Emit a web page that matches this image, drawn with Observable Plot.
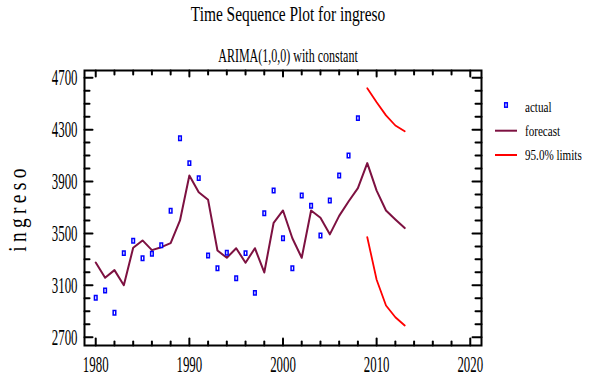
<!DOCTYPE html>
<html><head><meta charset="utf-8">
<script src="https://cdn.jsdelivr.net/npm/d3@7"></script>
<script src="https://cdn.jsdelivr.net/npm/@observablehq/plot@0.6"></script>
<style>
html,body{margin:0;padding:0;background:#fff;}
#chart{position:relative;width:591px;height:378px;font-family:"Liberation Serif","Times New Roman",serif;color:#000;overflow:hidden;background:#fff;}
#head{position:relative;height:62px;}
.t{position:absolute;white-space:nowrap;line-height:1;}
.c{transform-origin:center;}
.l{transform-origin:left center;font-size:15px;}
.sw{position:absolute;}
#plot svg{display:block;}
</style>
</head><body>
<div id="chart">
  <div id="head">
    <span class="t c" style="left:288px;top:3px;font-size:22px;transform:translateX(-50%) scaleX(.70)">Time Sequence Plot for ingreso</span>
    <span class="t c" style="left:288px;top:47px;font-size:18.5px;transform:translateX(-50%) scaleX(.65)">ARIMA(1,0,0) with constant</span>
  </div>
  <div id="plot"></div>
  <svg class="sw" style="left:500px;top:99px" width="12" height="12"><rect x="4.7" y="3.8" width="2.6" height="4.4" fill="#fff" stroke="#0000ff" stroke-width="1.5"/></svg>
  <span class="t l" style="left:525px;top:100px;transform:scaleX(.74)">actual</span>
  <svg class="sw" style="left:494px;top:126px" width="26" height="10"><line x1="1" x2="23" y1="4.7" y2="4.7" stroke="#7d1141" stroke-width="2"/></svg>
  <span class="t l" style="left:525px;top:124px;transform:scaleX(.74)">forecast</span>
  <svg class="sw" style="left:494px;top:150px" width="26" height="10"><line x1="1" x2="23" y1="5" y2="5" stroke="#ff0000" stroke-width="2"/></svg>
  <span class="t l" style="left:525px;top:148px;transform:scaleX(.74)">95.0% limits</span>
</div>
<script>
// ---- data ----
const actualYears = [1980,1981,1982,1983,1984,1985,1986,1987,1988,1989,1990,1991,1992,1993,1994,1995,1996,1997,1998,1999,2000,2001,2002,2003,2004,2005,2006,2007,2008];
const actual = [3004,3060,2888,3348,3443,3309,3343,3409,3675,4234,4042,3926,3330,3232,3351,3155,3348,3042,3656,3831,3463,3232,3792,3713,3484,3754,3947,4101,4389];
const forecastYears = [1980,1981,1982,1983,1984,1985,1986,1987,1988,1989,1990,1991,1992,1993,1994,1995,1996,1997,1998,1999,2000,2001,2002,2003,2004,2005,2006,2007,2008,2009,2010,2011,2012,2013];
const forecast = [3276,3158,3217,3101,3389,3446,3371,3394,3425,3600,3947,3818,3759,3368,3312,3386,3274,3386,3199,3582,3677,3463,3312,3677,3621,3493,3635,3746,3849,4042,3830,3677,3608,3541];
const limitYears = [2009,2010,2011,2012,2013];
const upperLimit = [4620,4512,4410,4332,4288];
const lowerLimit = [3471,3143,2944,2854,2790];
const xMajor = [1980,1990,2000,2010,2020];
const xMinor = [1982,1984,1986,1988,1992,1994,1996,1998,2002,2004,2006,2008,2012,2014,2016,2018];
const yMajor = [2700,3100,3500,3900,4300,4700];
const yMinor = [2800,2900,3000,3200,3300,3400,3600,3700,3800,4000,4100,4200,4400,4500,4600];

const actualData = actualYears.map((x, i) => ({x, y: actual[i]}));
const forecastData = forecastYears.map((x, i) => ({x, y: forecast[i]}));
const upperData = limitYears.map((x, i) => ({x, y: upperLimit[i]}));
const lowerData = limitYears.map((x, i) => ({x, y: lowerLimit[i]}));

const rectSymbol = {draw(ctx) { ctx.rect(-1.3, -2.2, 2.6, 4.4); }};
const tickShape = {draw(ctx, l) { ctx.moveTo(0, 0); ctx.lineTo(0, -l); }};
const tk = (data, ch, anchor, rot, len) => Plot.vector(data, {
  [ch]: d => d, frameAnchor: anchor, anchor: "start", rotate: rot, length: len,
  shape: tickShape, stroke: "black", strokeWidth: 2
});

const svg = Plot.plot({
  width: 591, height: 316,
  marginLeft: 84, marginRight: 110, marginTop: 8, marginBottom: 33,
  x: {domain: [1978.8, 2021.2]},
  y: {domain: [2636, 4756]},
  style: {fontFamily: "Liberation Serif, serif", fontSize: "23px", background: "white", color: "black", overflow: "visible"},
  marks: [
    Plot.line(upperData, {x: "x", y: "y", stroke: "#ff0000", strokeWidth: 1.8}),
    Plot.line(lowerData, {x: "x", y: "y", stroke: "#ff0000", strokeWidth: 1.8}),
    Plot.line(forecastData, {x: "x", y: "y", stroke: "#7d1141", strokeWidth: 2}),
    Plot.dot(actualData, {x: "x", y: "y", symbol: rectSymbol, r: 2, stroke: "#0000ff", strokeWidth: 1.5, fill: "white"}),
    tk(xMajor, "x", "bottom", 0, 7), tk(xMinor, "x", "bottom", 0, 4),
    tk(xMajor, "x", "top", 180, 6), tk(xMinor, "x", "top", 180, 4),
    tk(yMajor, "y", "left", 90, 8), tk(yMinor, "y", "left", 90, 5),
    tk(yMajor, "y", "right", -90, 9), tk(yMinor, "y", "right", -90, 6),
    Plot.frame({stroke: "black", strokeWidth: 2}),
    Plot.axisX({ticks: xMajor, tickSize: 0, tickPadding: 10, tickFormat: d => String(d), label: null, fontSize: 23}),
    Plot.axisY({ticks: yMajor, tickSize: 0, tickPadding: 7, tickFormat: d => String(d), label: "ingreso", labelAnchor: "center", labelArrow: "none", labelOffset: 76, fontSize: 23})
  ]
});
document.getElementById("plot").appendChild(svg);

function squeeze(sel, s) {
  svg.querySelectorAll(sel).forEach(t => {
    const tr = t.getAttribute("transform");
    if (tr) t.setAttribute("transform", tr + ` scale(${s},1)`);
    else {
      const x = +(t.getAttribute("x") || 0);
      t.setAttribute("transform", `translate(${x},0) scale(${s},1) translate(${-x},0)`);
    }
  });
}
squeeze('g[aria-label="x-axis tick label"] text, g[aria-label="y-axis tick label"] text', 0.56);
svg.querySelectorAll('g[aria-label="y-axis label"] text').forEach(t => {
  t.setAttribute("font-size", "25");
  t.style.fontSize = "25px";
  t.style.letterSpacing = "5.5px";
});
squeeze('g[aria-label="y-axis label"] text', 0.78);
</script>
</body></html>
